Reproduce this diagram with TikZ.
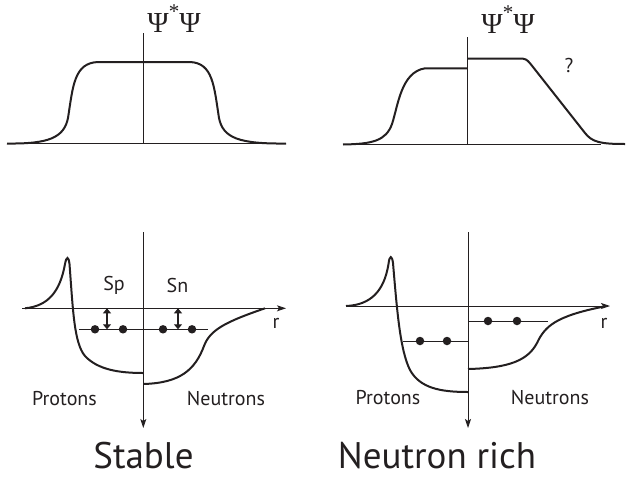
\documentclass[tikz,border=0pt]{standalone}
\usepackage{fontspec}
\setmainfont{PT Sans}
\newfontfamily\timesf{Liberation Serif}
\usetikzlibrary{arrows.meta}
\definecolor{ink}{HTML}{231F20}
\begin{document}
\begin{tikzpicture}[x=1pt,y=-1pt,
  axis/.style={line width=0.9pt,draw=ink},
  curve/.style={line width=2pt,draw=ink},
  lvl/.style={line width=0.9pt,draw=ink},
  axarrow/.style={axis,-{Stealth[length=9pt,width=6pt,inset=2pt]}},
  dbl/.style={line width=1.2pt,draw=ink,{Triangle[length=5pt,width=8pt]}-{Triangle[length=5pt,width=8pt]}},
  dot/.style={circle,fill=ink,inner sep=0pt,minimum size=8.5pt},
  lab/.style={font=\fontsize{20}{22}\selectfont,text=ink,anchor=base,inner sep=0pt},
  big/.style={font=\fontsize{37}{40}\selectfont,text=ink,anchor=base,inner sep=0pt},
  psi/.style={font=\timesf\fontsize{29}{30}\selectfont,text=ink,anchor=base,inner sep=0pt}]
\useasboundingbox (0,0) rectangle (626,477);

% ---------- top left ----------
\coordinate (tlL) at (7,143.3);
\coordinate (tlR) at (286,143.3);
\coordinate (tlT) at (143.3,33);
\coordinate (tlB) at (143.3,143.3);
\draw[axis] (tlL) -- (tlR);
\draw[axis] (tlT) -- (tlB);
\draw[curve] (7,143.5) .. controls (48,144) and (64,138) .. (68,118)
  .. controls (73,86) and (74,63) .. (98,62) -- (190,62)
  .. controls (213,63) and (214,86) .. (219,118)
  .. controls (223,138) and (239,144) .. (286,143.5);
\node[psi] (psiL) at (174,32) {Ψ\raisebox{0.45em}{\fontsize{21}{21}\selectfont *}Ψ};

% ---------- top right ----------
\coordinate (trL) at (343,144);
\coordinate (trR) at (601,144);
\coordinate (trT) at (467.3,37);
\coordinate (trB) at (467.3,144);
\draw[axis] (trL) -- (trR);
\draw[axis] (trT) -- (trB);
\draw[curve] (343,144.5) .. controls (372,144) and (386,141) .. (392,124)
  .. controls (398,106) and (401,72) .. (425,68.3) -- (467.3,68.3);
\draw[curve] (467.3,58.7) -- (523,58.7) .. controls (527,59) and (529,62) .. (533,67)
  -- (585,133) .. controls (592,142) and (600,144) .. (625,144);
\node[psi] (psiR) at (508,33) {Ψ\raisebox{0.45em}{\fontsize{21}{21}\selectfont *}Ψ};
\node[lab] (q) at (569,72) {?};

% ---------- bottom left ----------
\coordinate (blT) at (143.3,232);
\coordinate (blB) at (143.3,428);
\coordinate (blL) at (22,308.3);
\coordinate (blR) at (286,308.3);
\draw[axarrow] (blT) -- (blB);
\draw[axarrow] (blL) -- (blR);
\draw[curve] (25,308.3) .. controls (48,306) and (60,292) .. (65,264)
  .. controls (66.5,256) and (68.5,256) .. (69.5,264)
  .. controls (73,310) and (74,343) .. (85,356)
  .. controls (98,370) and (120,373) .. (143.3,373);
\draw[curve] (143.3,384) .. controls (180,383) and (195,370) .. (204,346)
  .. controls (210,330) and (225,322) .. (265,308.3);
\coordinate (blv1) at (79,329.3);
\coordinate (blv2) at (208,329.3);
\draw[lvl] (blv1) -- (blv2);
\node[dot] (d1) at (95,329.3) {};
\node[dot] (d2) at (123,329.3) {};
\node[dot] (d3) at (163,329.3) {};
\node[dot] (d4) at (192,329.3) {};
\coordinate (spa) at (107,308.3);
\coordinate (spb) at (107,329.3);
\coordinate (sna) at (178,308.3);
\coordinate (snb) at (178,329.3);
\draw[dbl] (spa) -- (spb);
\draw[dbl] (sna) -- (snb);
\node[lab] (sp) at (114,290) {Sp};
\node[lab] (sn) at (177.5,292) {Sn};
\node[lab] (rl) at (276,328) {r};
\node[lab] (pl) at (64.5,405) {Protons};
\node[lab] (nl) at (226,405) {Neutrons};
\node[big] (stable) at (143.5,468) {Stable};

% ---------- bottom right ----------
\coordinate (brT) at (468,232);
\coordinate (brB) at (468,428);
\coordinate (brL) at (346,306);
\coordinate (brR) at (610,306);
\draw[axarrow] (brT) -- (brB);
\draw[axarrow] (brL) -- (brR);
\draw[curve] (346,306) .. controls (370,305) and (384,292) .. (388.5,264)
  .. controls (389.5,255) and (392,255) .. (393,263)
  .. controls (397,310) and (400,350) .. (410,370)
  .. controls (420,388) and (440,392) .. (468,392);
\draw[curve] (468,369) .. controls (510,368) and (528,360) .. (537,343)
  .. controls (545,326) and (556,316) .. (604,306.5);
\coordinate (brp1) at (403,341);
\coordinate (brp2) at (468,341);
\coordinate (brn1) at (468,321);
\coordinate (brn2) at (548,321);
\draw[lvl] (brp1) -- (brp2);
\draw[lvl] (brn1) -- (brn2);
\node[dot] (e1) at (420,341) {};
\node[dot] (e2) at (447,341) {};
\node[dot] (e3) at (488,321) {};
\node[dot] (e4) at (517,321) {};
\node[lab] (rr) at (604,328) {r};
\node[lab] (pr) at (388,404) {Protons};
\node[lab] (nr) at (550,404) {Neutrons};
\node[big] (nrich) at (437,468) {Neutron rich};
\end{tikzpicture}
\end{document}
